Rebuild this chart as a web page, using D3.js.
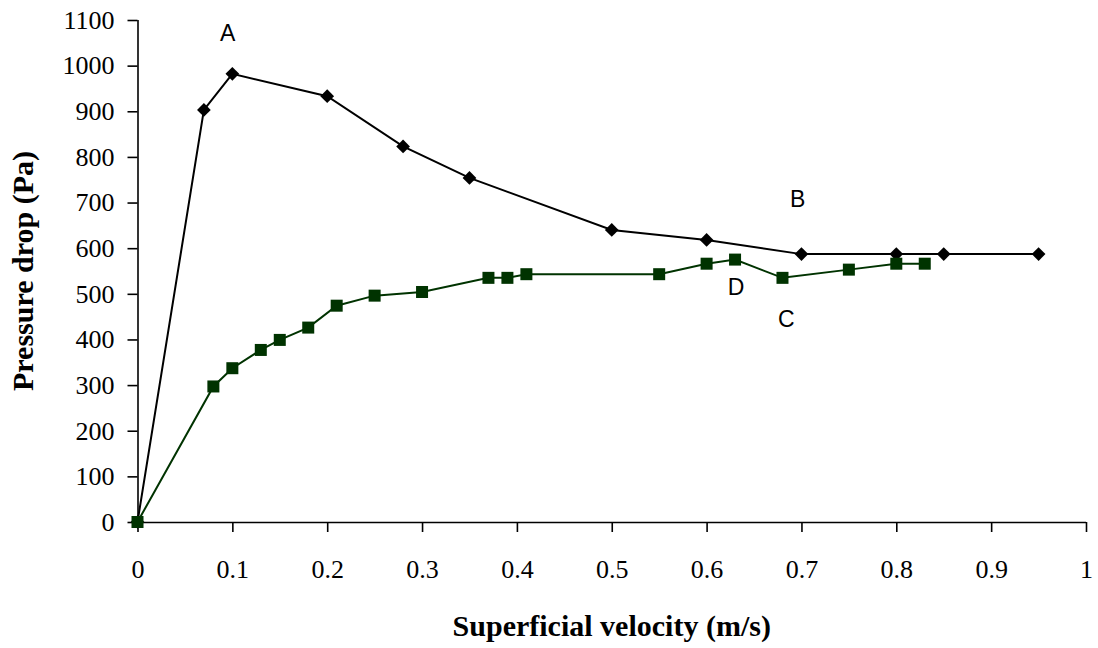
<!DOCTYPE html>
<html>
<head>
<meta charset="utf-8">
<script src="https://cdn.jsdelivr.net/npm/d3@7"></script>
<style>
  html, body { margin: 0; padding: 0; background: #fff; }
  svg { display: block; }
</style>
</head>
<body>
<svg id="chart" width="1098" height="648"></svg>
<script>
// Upper curve (diamonds): superficial velocity (m/s) and pressure drop (Pa)
const upperVelocity = [0, 0.07, 0.1, 0.2, 0.28, 0.35, 0.5, 0.6, 0.7, 0.8, 0.85, 0.95];
const upperPressure = [0, 903, 982, 933, 823, 754, 640, 618, 587, 587, 587, 587];

// Lower curve (squares)
const lowerVelocity = [0, 0.08, 0.1, 0.13, 0.15, 0.18, 0.21, 0.25, 0.3, 0.37, 0.39, 0.41, 0.55, 0.6, 0.63, 0.68, 0.75, 0.8, 0.83];
const lowerPressure = [0, 297, 337, 377, 399, 426, 474, 496, 504, 535, 535, 543, 543, 566, 575, 535, 553, 566, 566];

// Axis ticks
const xTicks = [0, 0.1, 0.2, 0.3, 0.4, 0.5, 0.6, 0.7, 0.8, 0.9, 1];
const yTicks = [0, 100, 200, 300, 400, 500, 600, 700, 800, 900, 1000, 1100];

// Point labels, placed in data units
const labelText = ["A", "B", "D", "C"];
const labelVelocity = [0.095, 0.696, 0.631, 0.684];
const labelPressure = [1055, 691, 498, 428];

const svg = d3.select("#chart");

const x = d3.scaleLinear().domain([0, 1]).range([137.5, 1086]);
const y = d3.scaleLinear().domain([0, 1100]).range([522, 20]);

const serif = "'Liberation Serif', 'Times New Roman', serif";
const sans = "'Liberation Sans', Arial, sans-serif";

// Axes
const plain = d3.format("");
const xAxis = d3.axisBottom(x).tickValues(xTicks).tickSize(10).tickPadding(28).tickFormat(plain);
const yAxis = d3.axisLeft(y).tickValues(yTicks).tickSize(10).tickPadding(13).tickFormat(d3.format("d"));

const gx = svg.append("g").attr("transform", `translate(0,${y(0)})`).call(xAxis);
const gy = svg.append("g").attr("transform", `translate(${x(0)},0)`).call(yAxis);

[gx, gy].forEach(g => {
  g.select(".domain").attr("stroke", "#000").attr("stroke-width", 1.6);
  g.selectAll(".tick line").attr("stroke", "#000").attr("stroke-width", 1.6);
  g.selectAll(".tick text").attr("fill", "#000")
    .style("font-family", serif).style("font-size", "26px");
});
// Domain without the outer end caps
gx.select(".domain").attr("d", `M${x(0)},0.5H${x(1)}`);
gy.select(".domain").attr("d", `M0.5,${y(0)}V${y(1100)}`);

// Axis titles
svg.append("text")
  .attr("x", (x(0) + x(1)) / 2).attr("y", 636)
  .attr("text-anchor", "middle")
  .style("font-family", serif).style("font-size", "30px").style("font-weight", "bold")
  .text("Superficial velocity (m/s)");

svg.append("text")
  .attr("transform", `translate(33,${(y(0) + y(1100)) / 2}) rotate(-90)`)
  .attr("text-anchor", "middle")
  .style("font-family", serif).style("font-size", "30px").style("font-weight", "bold")
  .text("Pressure drop (Pa)");

// Series
const upper = upperVelocity.map((v, i) => ({ v, p: upperPressure[i] }));
const lower = lowerVelocity.map((v, i) => ({ v, p: lowerPressure[i] }));

const line = d3.line().x(d => x(d.v)).y(d => y(d.p));

svg.append("path").datum(upper)
  .attr("fill", "none").attr("stroke", "#000").attr("stroke-width", 2)
  .attr("d", line);

svg.append("g").selectAll("path").data(upper).join("path")
  .attr("transform", d => `translate(${x(d.v)},${y(d.p)})`)
  .attr("d", d3.symbol(d3.symbolDiamond2, 120)())
  .attr("fill", "#000");

const green = "#003300";
svg.append("path").datum(lower)
  .attr("fill", "none").attr("stroke", green).attr("stroke-width", 2)
  .attr("d", line);

svg.append("g").selectAll("rect").data(lower).join("rect")
  .attr("x", d => x(d.v) - 6).attr("y", d => y(d.p) - 6)
  .attr("width", 12).attr("height", 12)
  .attr("fill", green);

// Point labels
svg.append("g").selectAll("text").data(labelText).join("text")
  .attr("x", (d, i) => x(labelVelocity[i]))
  .attr("y", (d, i) => y(labelPressure[i]))
  .attr("text-anchor", "middle")
  .style("font-family", sans).style("font-size", "23px").attr("fill", "#000")
  .text(d => d);
</script>
</body>
</html>
